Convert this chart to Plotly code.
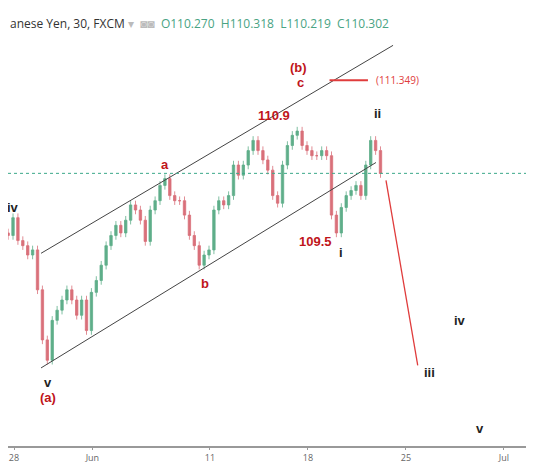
import plotly.graph_objects as go

# closes of the (resampled) bars, one every quarter trading day from day -0.3
closes = [109.57, 109.78, 109.51, 109.45, 109.34, 109.40, 108.93, 108.34, 108.10, 108.57,
          108.69, 108.81, 108.93, 108.81, 108.63, 108.81, 108.45, 108.90, 109.04, 109.22,
          109.45, 109.57, 109.69, 109.60, 109.75, 109.93, 109.87, 109.75, 109.50, 109.87,
          109.98, 110.16, 110.24, 110.04, 109.98, 109.98, 109.81, 109.57, 109.45, 109.22,
          109.34, 109.40, 109.87, 109.98, 109.93, 110.04, 110.40, 110.28, 110.40, 110.57,
          110.69, 110.57, 110.46, 110.34, 110.04, 109.95, 110.40, 110.63, 110.75, 110.80,
          110.63, 110.57, 110.51, 110.51, 110.57, 110.51, 109.81, 109.60, 109.90, 110.04,
          110.10, 110.16, 110.04, 110.40, 110.69, 110.57, 110.30]
first_open = 109.60
last_price = 110.302

tick_days = [0, 4, 10, 15, 20, 25]
tick_text = ["28", "Jun", "11", "18", "25", "Jul"]

channel_upper = ([1.38, 19.34], [109.36, 111.81])
channel_lower = ([1.38, 18.47], [108.01, 110.43])
projection = ([18.98, 20.6], [110.22, 108.04])
target_line = ([16.1, 18.06], [111.40, 111.40])

RED = "#c0151b"
BLACK = "#222222"
labels = [
    ("iv", -0.05, 109.90, BLACK), ("a", 7.7, 110.41, RED), ("b", 9.74, 109.01, RED),
    ("110.9", 13.27, 110.98, RED), ("(b)", 14.5, 111.55, RED), ("c", 14.6, 111.37, RED),
    ("ii", 18.57, 111.01, BLACK), ("109.5", 15.4, 109.50, RED), ("i", 16.68, 109.37, BLACK),
    ("iv", 22.76, 108.57, BLACK), ("iii", 21.22, 107.96, BLACK), ("v", 1.73, 107.84, BLACK),
    ("(a)", 1.73, 107.66, RED), ("v", 23.78, 107.30, BLACK),
]

x = [-0.3 + 0.25 * i for i in range(len(closes))]
opens = [first_open] + closes[:-1]
highs = [max(o, c) + 0.05 for o, c in zip(opens, closes)]
lows = [min(o, c) - 0.05 for o, c in zip(opens, closes)]

fig = go.Figure()
fig.add_trace(go.Candlestick(
    x=x, open=opens, high=highs, low=lows, close=closes,
    increasing=dict(line=dict(color="#5fae8a", width=0.8), fillcolor="#5fae8a"),
    decreasing=dict(line=dict(color="#d9707a", width=0.8), fillcolor="#d9707a"),
    whiskerwidth=0, showlegend=False, hoverinfo="skip"))

for xs, ys in (channel_upper, channel_lower):
    fig.add_trace(go.Scatter(x=xs, y=ys, mode="lines", line=dict(color="#444", width=1),
                             showlegend=False, hoverinfo="skip"))
fig.add_trace(go.Scatter(x=projection[0], y=projection[1], mode="lines",
                         line=dict(color="#e03c3c", width=1.3), showlegend=False))
fig.add_trace(go.Scatter(x=target_line[0], y=target_line[1], mode="lines",
                         line=dict(color="#e03c3c", width=2), showlegend=False))

fig.add_hline(y=last_price, line=dict(color="#3aa88a", width=1, dash="dot"))

fig.add_annotation(x=target_line[0][1] + 0.3, y=target_line[1][0], text="(111.349)",
                   showarrow=False, xanchor="left", font=dict(size=10, color="#e03c3c"))
for txt, lx, ly, col in labels:
    fig.add_annotation(x=lx, y=ly, text=f"<b>{txt}</b>", showarrow=False,
                       font=dict(size=13, color=col, family="Arial"))

fig.add_annotation(xref="paper", yref="paper", x=0, y=1, yanchor="top", xanchor="left",
                   yshift=-5, showarrow=False, align="left",
                   text="anese Yen, 30, FXCM <span style='color:#bbb'>▾  ◙◙</span>  "
                        "<span style='color:#49a383'>O110.270  H110.318  L110.219  C110.302</span>",
                   font=dict(size=12, color="#333", family="Open Sans"))

fig.update_layout(
    width=534, height=462, margin=dict(l=0, r=0, t=0, b=24),
    plot_bgcolor="white", paper_bgcolor="white",
    xaxis=dict(range=[-0.306, 26.94], tickvals=tick_days, ticktext=tick_text,
               showgrid=False, zeroline=False, rangeslider=dict(visible=False),
               showline=True, linecolor="#999", linewidth=1.5, ticks="outside",
               ticklen=2, tickcolor="#999", tickfont=dict(size=9, color="#666")),
    yaxis=dict(range=[107.09, 112.25], visible=False),
)

fig.write_html("out.html")
